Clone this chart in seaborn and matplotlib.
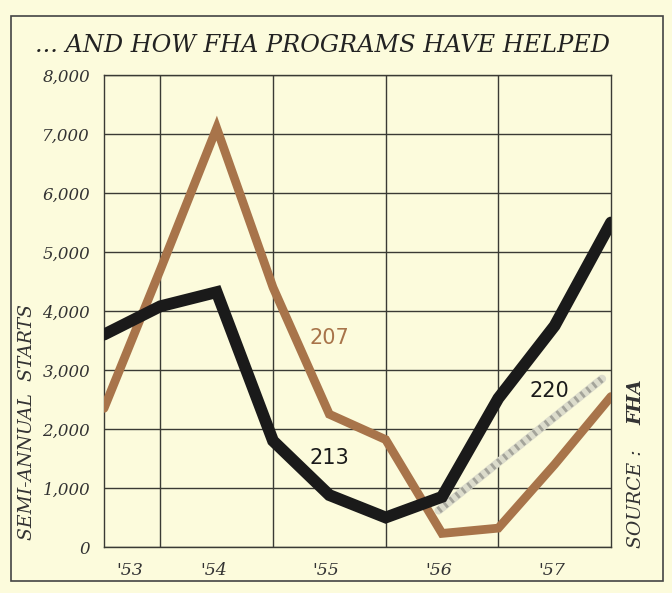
import matplotlib
matplotlib.use('Agg')
import matplotlib.pyplot as plt
from matplotlib.patches import Rectangle
import pandas as pd
import seaborn as sns

# semi-annual periods (year fractions), '53 H2 .. '57 H2
periods = [1953.5, 1954.0, 1954.5, 1955.0, 1955.5, 1956.0, 1956.5, 1957.0, 1957.5, 1958.0]
starts_213 = [3600, 4080, 4320, 1800, 880, 500, 850, 2520, 3750, 5500]
starts_207 = [2350, 4700, 7100, 4400, 2250, 1820, 230, 320, 1400, 2550]
periods_220 = [1956.47, 1957.92]
starts_220 = [620, 2850]

year_labels = ["'53", "'54", "'55", "'56", "'57"]
label_pos = [1953.73, 1954.47, 1955.47, 1956.47, 1957.47]
year_bounds = [1954, 1955, 1956, 1957]
y_ticks = [0, 1000, 2000, 3000, 4000, 5000, 6000, 7000, 8000]
y_tick_labels = ['0', '1,000', '2,000', '3,000', '4,000', '5,000', '6,000', '7,000', '8,000']

PAPER = '#fcfbdc'
BROWN = '#a8744a'
INK = '#1a1a1a'
GRID = '#3a3a34'

sns.set_style('white', {'axes.facecolor': PAPER, 'figure.facecolor': PAPER})
plt.rcParams['font.family'] = ['DejaVu Serif']

df = pd.concat([
    pd.DataFrame({'period': periods, 'starts': starts_207, 'program': '207'}),
    pd.DataFrame({'period': periods, 'starts': starts_213, 'program': '213'}),
])
df220 = pd.DataFrame({'period': periods_220, 'starts': starts_220})

W, H = 672, 593
fig = plt.figure(figsize=(W / 100, H / 100), dpi=100)
ax = fig.add_axes([104 / W, 1 - 547 / H, (611 - 104) / W, (547 - 75) / H])

# shaded projection line for 220
sns.lineplot(data=df220, x='period', y='starts', ax=ax, color='#dcdccc', linewidth=6, zorder=3)
ax.plot(periods_220, starts_220, color='#a4a49a', linewidth=5, dashes=(0.4, 0.7), zorder=3,
        solid_capstyle='butt', dash_capstyle='butt')

sns.lineplot(data=df, x='period', y='starts', hue='program', palette={'207': BROWN, '213': INK},
             ax=ax, linewidth=6.3, legend=False, zorder=4, sort=False)
for ln in ax.lines[-2:]:
    ln.set_solid_joinstyle('miter')
ax.lines[-1].set_linewidth(8.5)

ax.set_xlim(1953.5, 1958.0)
ax.set_ylim(0, 8000)
ax.set_xticks(year_bounds)
ax.set_xticklabels([])
ax.set_xticks(label_pos, minor=True)
ax.set_xticklabels(year_labels, minor=True, fontsize=12.5, style='italic', color='#333')
ax.set_yticks(y_ticks)
ax.set_yticklabels(y_tick_labels, fontsize=12, style='italic', color='#333')
ax.tick_params(axis='both', which='both', length=0)
ax.tick_params(axis='y', pad=10)
ax.tick_params(axis='x', which='minor', pad=11)
ax.grid(True, which='major', color=GRID, linewidth=1.0)
ax.set_axisbelow(True)
for s in ax.spines.values():
    s.set_color(GRID)
    s.set_linewidth(1.0)
ax.set_xlabel('')
ax.set_ylabel('')

ax.text(1955.5, 3550, '207', color=BROWN, fontsize=15, family='DejaVu Sans', ha='center', va='center', zorder=5)
ax.text(1955.5, 1500, '213', color=INK, fontsize=15, family='DejaVu Sans', ha='center', va='center', zorder=5)
ax.text(1957.45, 2650, '220', color=INK, fontsize=15, family='DejaVu Sans', ha='center', va='center', zorder=5)

fig.text(35 / W, 1 - 46 / H, '... AND HOW FHA PROGRAMS HAVE HELPED', fontsize=17.3,
         style='italic', color='#222', ha='left', va='center')
fig.text(27 / W, 1 - 422 / H, 'SEMI-ANNUAL  STARTS', fontsize=13.5, style='italic',
         color='#333', rotation=90, ha='center', va='center')
fig.text(636 / W, 1 - 548 / H, 'SOURCE : ', fontsize=13.5, style='italic',
         color='#333', rotation=90, ha='center', va='bottom')
fig.text(636 / W, 1 - 402 / H, 'FHA', fontsize=13.5, style='italic', weight='bold',
         color='#333', rotation=90, ha='center', va='center')

fig.patches.append(Rectangle((11 / W, 1 - 581 / H), (663 - 11) / W, (581 - 16) / H,
                             transform=fig.transFigure, fill=False, edgecolor='#444', linewidth=1.2))

fig.savefig('out.png', dpi=100, facecolor=PAPER)
